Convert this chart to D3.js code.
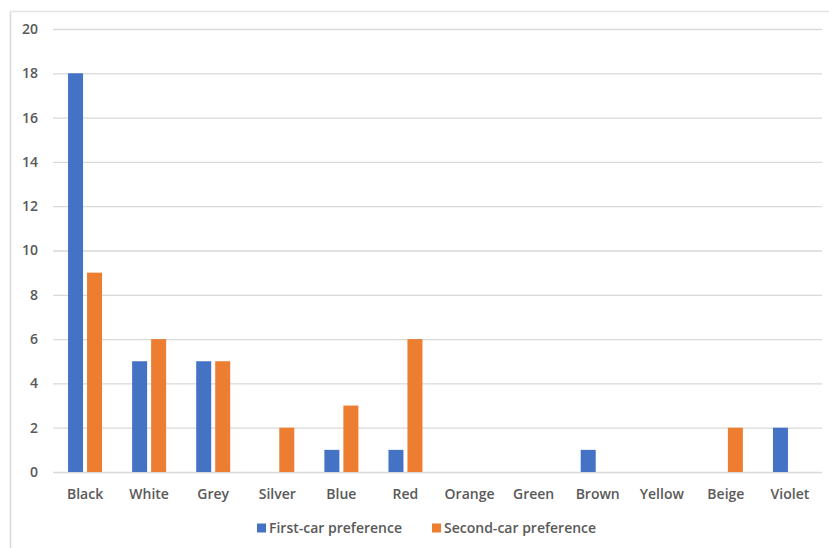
<!DOCTYPE html>
<html><head><meta charset="utf-8">
<script src="https://cdn.jsdelivr.net/npm/d3@7"></script>
<style>
html,body{margin:0;padding:0;background:#fff;}
svg{display:block;font-family:"Open Sans",sans-serif;}
</style></head>
<body>
<svg id="chart" width="829" height="548"></svg>
<script>
const categories = ["Black","White","Grey","Silver","Blue","Red","Orange","Green","Brown","Yellow","Beige","Violet"];
const firstCar = [18,5,5,0,1,1,0,0,1,0,0,2];
const secondCar = [9,6,5,2,3,6,0,0,0,0,2,0];
const seriesNames = ["First-car preference","Second-car preference"];
const yTicks = [0,2,4,6,8,10,12,14,16,18,20];
const colors = ["#4472C4","#ED7D31"];

const svg = d3.select("#chart");
const textColor = "#595959";
const gridColor = "#D9D9D9";

// frame
svg.append("line").attr("x1",10.5).attr("x2",10.5).attr("y1",11).attr("y2",548).attr("stroke","#D9D9D9").attr("stroke-width",1.5);
svg.append("line").attr("x1",10).attr("x2",829).attr("y1",11.5).attr("y2",11.5).attr("stroke","#E3E3E3").attr("stroke-width",1.5);

const x0 = d3.scaleBand().domain(categories).range([53,822]);
const y = d3.scaleLinear().domain([0,20]).range([472,29]);

// gridlines
svg.append("g").selectAll("line").data(yTicks).join("line")
  .attr("x1",53).attr("x2",822)
  .attr("y1",d=>y(d)+0.5).attr("y2",d=>y(d)+0.5)
  .attr("stroke",gridColor).attr("stroke-width",1.3);

// y labels
svg.append("g").selectAll("text").data(yTicks).join("text")
  .attr("x",38).attr("y",d=>y(d)).attr("dy","0.35em")
  .attr("text-anchor","end").attr("fill",textColor)
  .attr("font-size",14).attr("font-weight",600)
  .text(d=>d);

const barW = 15, gap = 4;
const x1 = d3.scaleOrdinal().domain([0,1]).range([-(barW+gap/2), gap/2]);

const data = categories.map((c,i)=>({c, vals:[firstCar[i],secondCar[i]]}));
const groups = svg.append("g").selectAll("g").data(data).join("g")
  .attr("transform",d=>`translate(${x0(d.c)+x0.bandwidth()/2},0)`);
groups.selectAll("rect").data(d=>d.vals.map((v,k)=>({v,k}))).join("rect")
  .filter(d=>d.v>0)
  .attr("x",d=>x1(d.k)).attr("width",barW)
  .attr("y",d=>y(d.v)).attr("height",d=>y(0)-y(d.v))
  .attr("fill",d=>colors[d.k]);

// x labels
svg.append("g").selectAll("text").data(categories).join("text")
  .attr("x",d=>x0(d)+x0.bandwidth()/2).attr("y",494).attr("dy","0.35em")
  .attr("text-anchor","middle").attr("fill",textColor)
  .attr("font-size",14).attr("font-weight",600)
  .text(d=>d);

// legend
const legendX = [257, 432];
const lg = svg.append("g").selectAll("g").data(seriesNames).join("g")
  .attr("transform",(d,i)=>`translate(${legendX[i]},528)`);
lg.append("rect").attr("x",0).attr("y",-4.5).attr("width",9).attr("height",9).attr("fill",(d,i)=>colors[i]);
lg.append("text").attr("x",12).attr("y",0).attr("dy","0.35em")
  .attr("fill",textColor).attr("font-size",14).attr("font-weight",600).text(d=>d);
</script>
</body></html>
